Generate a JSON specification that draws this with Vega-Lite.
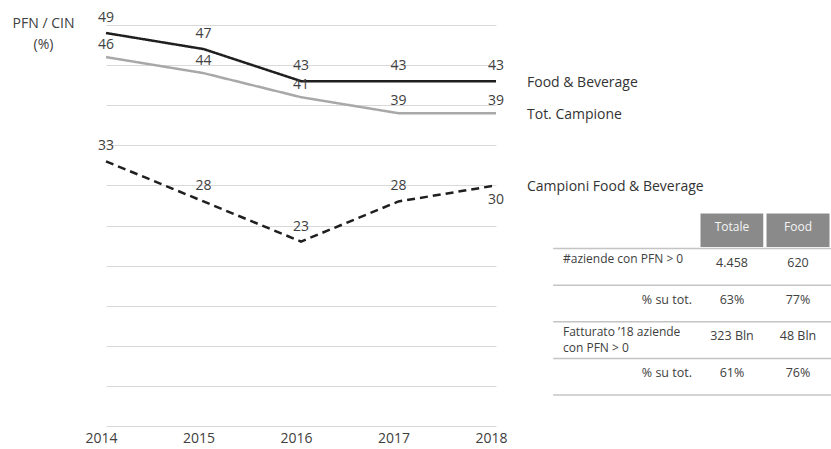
{
  "$schema": "https://vega.github.io/schema/vega-lite/v6.json",
  "width": 390,
  "height": 401,
  "autosize": {"type": "none"},
  "padding": {"left": 106, "top": 25, "right": 335, "bottom": 23},
  "background": "white",
  "config": {"view": {"stroke": null}, "font": "Open Sans"},
  "datasets": {
    "serie": [
      {"anno": "2014", "serie": "Food & Beverage", "valore": 49},
      {"anno": "2015", "serie": "Food & Beverage", "valore": 47},
      {"anno": "2016", "serie": "Food & Beverage", "valore": 43},
      {"anno": "2017", "serie": "Food & Beverage", "valore": 43},
      {"anno": "2018", "serie": "Food & Beverage", "valore": 43},
      {"anno": "2014", "serie": "Tot. Campione", "valore": 46},
      {"anno": "2015", "serie": "Tot. Campione", "valore": 44},
      {"anno": "2016", "serie": "Tot. Campione", "valore": 41},
      {"anno": "2017", "serie": "Tot. Campione", "valore": 39},
      {"anno": "2018", "serie": "Tot. Campione", "valore": 39},
      {"anno": "2014", "serie": "Campioni Food & Beverage", "valore": 33},
      {"anno": "2015", "serie": "Campioni Food & Beverage", "valore": 28},
      {"anno": "2016", "serie": "Campioni Food & Beverage", "valore": 23},
      {"anno": "2017", "serie": "Campioni Food & Beverage", "valore": 28},
      {"anno": "2018", "serie": "Campioni Food & Beverage", "valore": 30}
    ],
    "tabella": [
      {"riga": "h", "colonna": "Totale", "testo": "Totale"},
      {"riga": "h", "colonna": "Food", "testo": "Food"},
      {"riga": "r1", "colonna": "voce", "testo": "#aziende con PFN > 0"},
      {"riga": "r1", "colonna": "Totale", "testo": "4.458"},
      {"riga": "r1", "colonna": "Food", "testo": "620"},
      {"riga": "r2", "colonna": "sub", "testo": "% su tot."},
      {"riga": "r2", "colonna": "Totale", "testo": "63%"},
      {"riga": "r2", "colonna": "Food", "testo": "77%"},
      {"riga": "r3", "colonna": "voce", "testo": "Fatturato ’18 aziende\ncon PFN > 0"},
      {"riga": "r3", "colonna": "Totale", "testo": "323 Bln"},
      {"riga": "r3", "colonna": "Food", "testo": "48 Bln"},
      {"riga": "r4", "colonna": "sub", "testo": "% su tot."},
      {"riga": "r4", "colonna": "Totale", "testo": "61%"},
      {"riga": "r4", "colonna": "Food", "testo": "76%"}
    ]
  },
  "layer": [
    {
      "data": {"name": "serie"},
      "encoding": {
        "x": {
          "field": "anno", "type": "ordinal",
          "scale": {"type": "point", "padding": 0},
          "axis": {"title": null, "domain": false, "ticks": false, "grid": false, "labelAngle": 0,
                   "labelFont": "Open Sans", "labelFontSize": 14, "labelColor": "#404040",
                   "labelPadding": 5, "labelOffset": -5}
        },
        "y": {
          "field": "valore", "type": "quantitative",
          "scale": {"domain": [0, 50], "nice": false},
          "axis": {"labels": false, "ticks": false, "domain": false, "grid": true,
                   "gridColor": "#d9d9d9", "gridWidth": 1,
                   "values": [0, 5, 10, 15, 20, 25, 30, 35, 40, 45, 50],
                   "title": ["PFN / CIN", "(%)"], "titleAngle": 0, "titleAlign": "center",
                   "titleBaseline": "top", "titleX": -63, "titleY": -9,
                   "titleFont": "Open Sans", "titleFontSize": 14, "titleFontWeight": "normal",
                   "titleColor": "#404040", "titleLineHeight": 21}
        }
      },
      "layer": [
        {
          "mark": {"type": "line", "strokeWidth": 2.5},
          "encoding": {
            "color": {"field": "serie", "type": "nominal", "legend": null,
                      "scale": {"domain": ["Food & Beverage", "Tot. Campione", "Campioni Food & Beverage"],
                                "range": ["#1f1f1f", "#a8a8a8", "#1f1f1f"]}},
            "strokeDash": {"field": "serie", "type": "nominal", "legend": null,
                           "scale": {"domain": ["Food & Beverage", "Tot. Campione", "Campioni Food & Beverage"],
                                     "range": [[1, 0], [1, 0], [8, 5]]}}
          }
        },
        {
          "transform": [{"filter": "datum.serie == 'Food & Beverage'"}],
          "mark": {"type": "text", "dy": -15, "fontSize": 14, "font": "Open Sans", "color": "#404040", "baseline": "middle"},
          "encoding": {"text": {"field": "valore", "type": "quantitative"}}
        },
        {
          "transform": [{"filter": "datum.serie == 'Tot. Campione'"}],
          "mark": {"type": "text", "dy": -12, "fontSize": 14, "font": "Open Sans", "color": "#404040", "baseline": "middle"},
          "encoding": {"text": {"field": "valore", "type": "quantitative"}}
        },
        {
          "transform": [{"filter": "datum.serie == 'Campioni Food & Beverage' && datum.anno != '2018'"}],
          "mark": {"type": "text", "dy": -15, "fontSize": 14, "font": "Open Sans", "color": "#404040", "baseline": "middle"},
          "encoding": {"text": {"field": "valore", "type": "quantitative"}}
        },
        {
          "transform": [{"filter": "datum.serie == 'Campioni Food & Beverage' && datum.anno == '2018'"}],
          "mark": {"type": "text", "dy": 15, "fontSize": 14, "font": "Open Sans", "color": "#404040", "baseline": "middle"},
          "encoding": {"text": {"field": "valore", "type": "quantitative"}}
        },
        {
          "transform": [{"filter": "datum.anno == '2018'"}],
          "mark": {"type": "text", "dx": 31, "dy": 2, "align": "left", "fontSize": 14, "font": "Open Sans", "color": "#333333", "baseline": "middle"},
          "encoding": {"text": {"field": "serie", "type": "nominal"}}
        }
      ]
    },
    {
      "data": {"name": "tabella"},
      "layer": [
        {
          "transform": [{"filter": "datum.riga == 'h'"}],
          "mark": {"type": "rect", "fill": "#8a8a8a", "stroke": "white", "strokeWidth": 3},
          "encoding": {
            "x": {"field": "colonna", "type": "nominal", "axis": null,
                  "scale": {"type": "band", "domain": ["voce", "sub", "Totale", "Food"], "range": [461, 725], "paddingInner": 0, "paddingOuter": 0}},
            "y": {"field": "riga", "type": "nominal", "axis": null,
                  "scale": {"type": "band", "domain": ["h", "r1", "r2", "r3", "r4"], "range": [187, 370], "paddingInner": 0, "paddingOuter": 0}}
          }
        },
        {
          "transform": [{"aggregate": [{"op": "count", "as": "n"}], "groupby": ["riga"]}],
          "mark": {"type": "rule", "color": "#c4c4c4", "strokeWidth": 1.5},
          "encoding": {
            "y": {"field": "riga", "type": "nominal", "bandPosition": 1, "axis": null},
            "x": {"datum": "voce", "type": "nominal", "bandPosition": -0.21, "axis": null},
            "x2": {"datum": "Food", "bandPosition": 1}
          }
        },
        {
          "transform": [{"filter": "datum.riga == 'h'"}],
          "mark": {"type": "text", "color": "#f4f4f4", "fontSize": 12, "fontWeight": "normal", "font": "Open Sans", "dy": -3},
          "encoding": {
            "x": {"field": "colonna", "type": "nominal", "axis": null},
            "y": {"field": "riga", "type": "nominal", "axis": null},
            "text": {"field": "testo"}
          }
        },
        {
          "transform": [{"filter": "datum.riga != 'h' && (datum.colonna == 'Totale' || datum.colonna == 'Food')"}],
          "mark": {"type": "text", "color": "#404040", "fontSize": 12.5, "font": "Open Sans", "dy": -4},
          "encoding": {
            "x": {"field": "colonna", "type": "nominal", "axis": null},
            "y": {"field": "riga", "type": "nominal", "axis": null},
            "text": {"field": "testo"}
          }
        },
        {
          "transform": [{"filter": "datum.colonna == 'voce'"}],
          "mark": {"type": "text", "color": "#404040", "fontSize": 12, "font": "Open Sans", "dy": -8, "dx": -4, "align": "left", "lineBreak": "\n", "lineHeight": 16},
          "encoding": {
            "x": {"field": "colonna", "type": "nominal", "axis": null, "bandPosition": 0},
            "y": {"field": "riga", "type": "nominal", "axis": null},
            "text": {"field": "testo"}
          }
        },
        {
          "transform": [{"filter": "datum.colonna == 'sub'"}],
          "mark": {"type": "text", "color": "#404040", "fontSize": 12.5, "font": "Open Sans", "dy": -4, "dx": -7, "align": "right"},
          "encoding": {
            "x": {"field": "colonna", "type": "nominal", "axis": null, "bandPosition": 1},
            "y": {"field": "riga", "type": "nominal", "axis": null},
            "text": {"field": "testo"}
          }
        }
      ]
    }
  ],
  "resolve": {"scale": {"x": "independent", "y": "independent", "color": "independent", "strokeDash": "independent"}}
}
